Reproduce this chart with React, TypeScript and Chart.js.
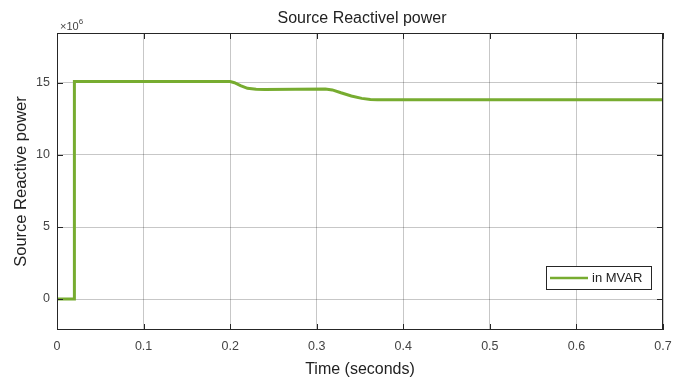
import React, { useEffect, useRef } from "react";
import { Chart, registerables } from "chart.js";

Chart.register(...registerables);

const timeSeconds = [0, 0.02, 0.0201, 0.2, 0.205, 0.212, 0.22, 0.23, 0.24, 0.31, 0.318, 0.328, 0.34, 0.352, 0.362, 0.37, 0.7];
const reactivePower = [0, 0, 15.1, 15.1, 15.02, 14.82, 14.63, 14.56, 14.55, 14.58, 14.52, 14.32, 14.1, 13.93, 13.86, 13.84, 13.84];
const xTicks = [0, 0.1, 0.2, 0.3, 0.4, 0.5, 0.6, 0.7];
const yTicks = [0, 5, 10, 15];
const titleText = "Source Reactivel power";
const xTitle = "Time (seconds)";
const yTitle = "Source Reactive power";
const legendLabel = "in MVAR";
const exponentLabel = "6";

const FONT = "'Liberation Sans', Arial, sans-serif";

export default function App() {
  const ref = useRef<HTMLCanvasElement | null>(null);
  useEffect(() => {
    document.body.style.margin = "0";
    document.body.style.background = "#ffffff";
    const canvas = ref.current!;
    const deco = {
      id: "deco",
      afterDraw(chart: any) {
        const ctx = chart.ctx;
        const a = chart.chartArea;
        ctx.save();
        ctx.strokeStyle = "#262626";
        ctx.lineWidth = 1;
        ctx.strokeRect(a.left + 0.5, a.top + 0.5, a.right - a.left - 1, a.bottom - a.top - 1);
        const xs = chart.scales.x;
        const ys = chart.scales.y;
        ctx.beginPath();
        xTicks.forEach((t) => {
          const px = Math.round(xs.getPixelForValue(t)) + 0.5;
          ctx.moveTo(px, a.bottom);
          ctx.lineTo(px, a.bottom - 6);
          ctx.moveTo(px, a.top);
          ctx.lineTo(px, a.top + 6);
        });
        yTicks.forEach((t) => {
          const py = Math.round(ys.getPixelForValue(t)) + 0.5;
          ctx.moveTo(a.left, py);
          ctx.lineTo(a.left + 6, py);
          ctx.moveTo(a.right, py);
          ctx.lineTo(a.right - 6, py);
        });
        ctx.stroke();
        // title
        ctx.fillStyle = "#222";
        ctx.font = `16px ${FONT}`;
        ctx.textAlign = "center";
        ctx.textBaseline = "middle";
        ctx.fillText(titleText, (a.left + a.right) / 2 + 2, 19);
        // exponent
        ctx.fillStyle = "#444";
        ctx.font = `11px ${FONT}`;
        ctx.textAlign = "left";
        ctx.textBaseline = "alphabetic";
        ctx.fillText("\u00d710", a.left + 3, a.top - 3);
        const w = ctx.measureText("\u00d710").width;
        ctx.font = `8px ${FONT}`;
        ctx.fillText(exponentLabel, a.left + 3 + w, a.top - 9);
        // legend
        const lx = 546, ly = 266, lw = 105, lh = 23;
        ctx.fillStyle = "#fff";
        ctx.fillRect(lx, ly, lw, lh);
        ctx.strokeStyle = "#262626";
        ctx.lineWidth = 1;
        ctx.strokeRect(lx + 0.5, ly + 0.5, lw, lh);
        ctx.strokeStyle = "#77ac30";
        ctx.lineWidth = 2.5;
        ctx.beginPath();
        ctx.moveTo(lx + 4, ly + lh / 2 + 0.5);
        ctx.lineTo(lx + 42, ly + lh / 2 + 0.5);
        ctx.stroke();
        ctx.fillStyle = "#222";
        ctx.font = `13px ${FONT}`;
        ctx.textBaseline = "middle";
        ctx.fillText(legendLabel, lx + 46, ly + lh / 2 + 1);
        ctx.restore();
      },
    };
    const chart = new Chart(canvas, {
      type: "line",
      data: {
        datasets: [
          {
            label: legendLabel,
            data: timeSeconds.map((t, i) => ({ x: t, y: reactivePower[i] })),
            borderColor: "#77ac30",
            borderWidth: 3,
            pointRadius: 0,
            tension: 0,
            fill: false,
          },
        ],
      },
      options: {
        responsive: false,
        animation: false,
        layout: { padding: { left: 12, right: 20, top: 33, bottom: 0 } },
        plugins: { legend: { display: false }, title: { display: false }, tooltip: { enabled: false } },
        scales: {
          x: {
            type: "linear",
            min: 0,
            max: 0.7,
            afterBuildTicks: (s: any) => {
              s.ticks = xTicks.map((v) => ({ value: v }));
            },
            afterFit: (s: any) => {
              s.height = 49;
            },
            ticks: {
              color: "#444",
              font: { family: FONT, size: 12.5 },
              padding: 9,
              callback: (v: any) => String(Number(v)),
              maxRotation: 0,
            },
            grid: { color: "rgba(0,0,0,0.22)", drawTicks: false },
            border: { display: false },
            title: { display: true, text: xTitle, color: "#222", font: { family: FONT, size: 16 }, padding: { top: 0, bottom: 0 } },
          },
          y: {
            type: "linear",
            min: -2.15,
            max: 18.47,
            afterBuildTicks: (s: any) => {
              s.ticks = yTicks.map((v) => ({ value: v }));
            },
            afterFit: (s: any) => {
              s.width = 45;
            },
            ticks: {
              color: "#444",
              font: { family: FONT, size: 12.5 },
              padding: 7,
            },
            grid: { color: "rgba(0,0,0,0.22)", drawTicks: false },
            border: { display: false },
            title: { display: true, text: yTitle, color: "#222", font: { family: FONT, size: 16.5 }, padding: { top: 0, bottom: 0 } },
          },
        },
      },
      plugins: [deco],
    } as any);
    return () => chart.destroy();
  }, []);
  return <canvas ref={ref} width={683} height={379} style={{ display: "block" }} />;
}
